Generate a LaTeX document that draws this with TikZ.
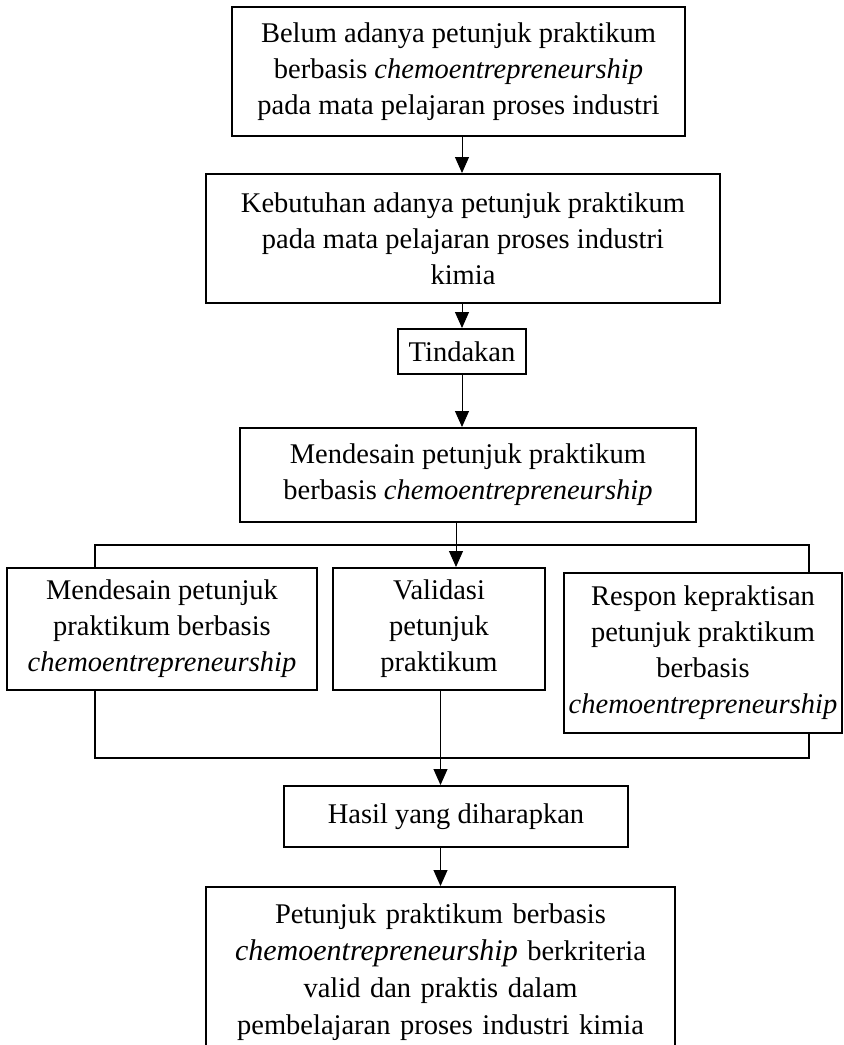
\documentclass[tikz,border=0pt]{standalone}
\usepackage{fontspec}
\setmainfont{Liberation Serif}
\usetikzlibrary{arrows.meta}
\tikzset{
 kotak/.style={draw,line width=1pt,align=center,inner sep=0pt,font=\fontsize{14.25pt}{18pt}\selectfont},
 panah/.style={line width=0.5pt,-{Triangle[length=8pt,width=7pt]}},
 garis/.style={line width=1pt}
}
\newcommand{\cem}{\textit{chemoentrepreneurship}}

\begin{document}
\begin{tikzpicture}[x=0.5pt,y=-0.5pt]
 \useasboundingbox (0,0) rectangle (844,1045);
 \node[kotak,minimum width=226.5pt,minimum height=64.5pt] (belum) at (458.5,71.5) {Belum adanya petunjuk praktikum\\berbasis \cem\\pada mata pelajaran proses industri};
 \node[kotak,minimum width=257pt,minimum height=64.5pt] (butuh) at (463,238.5) {Kebutuhan adanya petunjuk praktikum\\pada mata pelajaran proses industri\\kimia};
 \node[kotak,minimum width=64pt,minimum height=22.5pt] (tindakan) at (462,351.5) {Tindakan};
 \node[kotak,minimum width=228pt,minimum height=47pt] (desain) at (468,475) {Mendesain petunjuk praktikum\\berbasis \cem};
 \node[kotak,minimum width=155pt,minimum height=61pt] (mendesain) at (162,629) {Mendesain petunjuk\\praktikum berbasis\\\cem};
 \node[kotak,minimum width=106pt,minimum height=61pt] (validasi) at (439,629) {Validasi\\petunjuk\\praktikum};
 \node[kotak,minimum width=139pt,minimum height=80pt] (respon) at (703,653) {Respon kepraktisan\\petunjuk praktikum\\berbasis\\\cem};
 \node[kotak,minimum width=172pt,minimum height=30.5pt] (hasil) at (456,816.5) {Hasil yang diharapkan};
 \node[kotak,anchor=north,text width=234.5pt,inner ysep=8.3pt,font=\fontsize{14.25pt}{18.5pt}\selectfont] (akhir) at (440.5,886) {Petunjuk praktikum berbasis\\{\fontsize{15pt}{18.5pt}\selectfont\cem} berkriteria\\valid dan praktis dalam\\pembelajaran proses industri kimia};
 \coordinate (kiriatas) at (95,545);
 \coordinate (kananatas) at (809,545);
 \coordinate (kiribawah) at (95,758);
 \coordinate (kananbawah) at (809,758);
 \draw[panah] (tindakan.north |- belum.south) -- (tindakan.north |- butuh.north);
 \draw[panah] (butuh.south -| tindakan.north) -- (tindakan.north);
 \draw[panah] (tindakan.south) -- (tindakan.south |- desain.north);
 \draw[garis] (mendesain.north -| kiriatas) -- (kiriatas) -- (kananatas) -- (respon.north -| kananatas);
 \draw[panah] (desain.south -| hasil.north) -- (validasi.north -| hasil.north);
 \draw[garis] (mendesain.south -| kiribawah) -- (kiribawah) -- (kananbawah) -- (respon.south -| kananbawah);
 \draw[panah] (validasi.south -| akhir.north) -- (hasil.north -| akhir.north);
 \draw[panah] (hasil.south -| akhir.north) -- (akhir.north);
\end{tikzpicture}
\end{document}
